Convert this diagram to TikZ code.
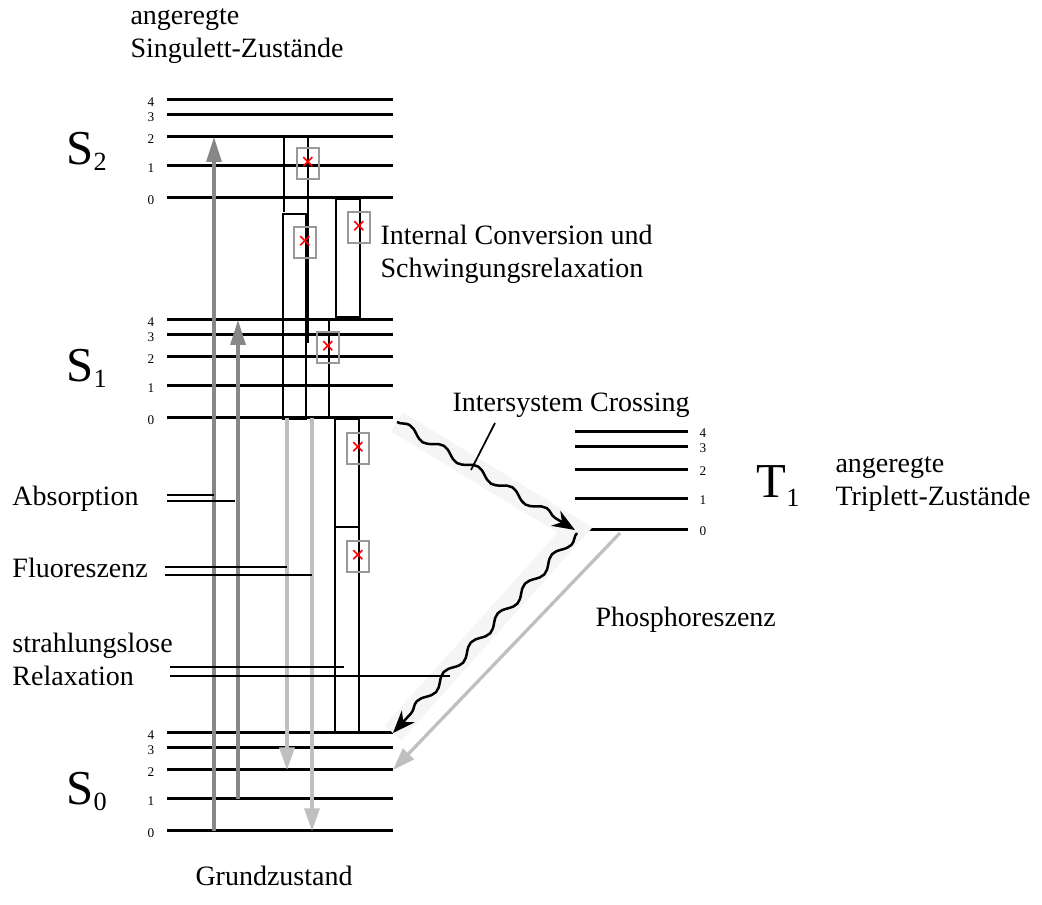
\documentclass[tikz,border=0pt]{standalone}
\usepackage{fontspec}
\setmainfont{Liberation Serif}
\usetikzlibrary{arrows.meta,calc,decorations.pathmorphing}

\begin{document}
\begin{tikzpicture}[
  x=0.4pt, y=-0.4pt,
  font=\fontsize{11.2}{13.2}\selectfont,
  level/.style={line width=1.2pt},
  num/.style={font=\fontsize{5.3}{6}\selectfont, inner sep=0pt},
  state/.style={font=\fontsize{19.5}{20}\selectfont, inner sep=0pt, anchor=base west},
  lbl/.style={anchor=base west, align=left, inner sep=0pt},
  frame/.style={line width=0.8pt},
  icon/.style={draw=black!40, line width=0.8pt, minimum width=8.8pt, minimum height=12.4pt,
    inner sep=0pt, text=red, font=\fontsize{10}{10}\selectfont\bfseries},
  pointer/.style={line width=0.7pt},
  absarr/.style={draw=black!47, line width=1.3pt, -{Triangle[length=10pt,width=6pt]}},
  fluarr/.style={draw=black!25, line width=1.3pt, -{Triangle[length=9pt,width=6pt]}},
  band/.style={draw=black!4, line width=9pt},
  wave/.style={line width=1pt, decorate,
    decoration={snake, amplitude=1.6pt, segment length=16pt, post length=9pt},
    -{Stealth[length=9pt,width=7pt]}}
]
\useasboundingbox (0,0) rectangle (1042,905);

% vibrational levels
\foreach \st/\y in {S2/100, S1/320, S0/733} {
  \foreach \v/\dy in {4/0, 3/15, 2/37, 1/66, 0/98} {
    \draw[level] (167,\y+\dy) coordinate (\st-\v) -- ++(226,0) coordinate (\st-\v e);
    \node[num] (n\st-\v) at (151,\y+\dy+2) {\v};
  }
}
\foreach \v/\dy in {4/0, 3/15, 2/38, 1/67, 0/98} {
  \draw[level] (575,432+\dy) coordinate (T1-\v) -- ++(113,0) coordinate (T1-\v e);
  \node[num] (nT1-\v) at (703,432+\dy+1) {\v};
}

% states
\node[state] (S2) at (66,165) {S\raisebox{-2.3pt}{\fontsize{10.5}{11}\selectfont 2}};
\node[state] (S1) at (66,382) {S\raisebox{-2.3pt}{\fontsize{10.5}{11}\selectfont 1}};
\node[state] (S0) at (66,805) {S\raisebox{-2.3pt}{\fontsize{10.5}{11}\selectfont 0}};
\node[state] (T1) at (756,498) {T\raisebox{-3.4pt}{\fontsize{10.5}{11}\selectfont 1}};

% texts
\node[lbl] (singulett) at (130,58) {angeregte\\Singulett-Zustände};
\node[lbl] (ic) at (380,278) {Internal Conversion und\\Schwingungsrelaxation};
\node[lbl] (isctext) at (452,412) {Intersystem Crossing};
\node[lbl] (triplett) at (835,506) {angeregte\\Triplett-Zustände};
\node[lbl] (absorption) at (12,506) {Absorption};
\node[lbl] (fluoreszenz) at (12,578) {Fluoreszenz};
\node[lbl] (relax) at (12,686) {strahlungslose\\Relaxation};
\node[lbl] (phos) at (595,627) {Phosphoreszenz};
\node[lbl] (grund) at (195,886) {Grundzustand};

% frames of the missing pictures
\draw[frame] (284,212) -- (284,137) -- (307.5,137) -- (307.5,343);
\draw[frame] (283,214) rectangle (305.5,419);
\draw[frame] (336,199) rectangle (360,317);
\draw[frame] (329,321) -- (329,419);
\draw[frame] (335,419) rectangle (358.5,733);
\draw[frame] (335,527) -- (358.5,527);
\node[icon] (icA) at (308,163.5) {×};
\node[icon] (icB) at (305,242.5) {×};
\node[icon] (icC) at (359,228) {×};
\node[icon] (icD) at (328,347.5) {×};
\node[icon] (icE) at (358,448.5) {×};
\node[icon] (icF) at (358,556.5) {×};

% absorption and fluorescence
\coordinate (absA) at (214,0);
\coordinate (absB) at (238,0);
\coordinate (fluA) at (287,0);
\coordinate (fluB) at (312,0);
\draw[absarr] (absA |- S0-0) -- (absA |- S2-2);
\draw[absarr] (absB |- S0-1) -- (absB |- S1-4);
\draw[fluarr] (fluA |- S1-0) -- (fluA |- S0-2);
\draw[fluarr] (fluB |- S1-0) -- (fluB |- S0-0);

% intersystem crossing and phosphorescence
\draw[band] ($(S1-0e)+(4,4)$) -- (T1-0) -- (S0-4e);
\draw[wave] ($(S1-0e)+(4,4)$) -- (T1-0);
\draw[wave] ($(T1-0)+(2,3)$) -- (S0-4e);
\draw[fluarr] ($(T1-0)+(45,3)$) -- (S0-2e);

% pointer lines
\draw[pointer] (167,495) -- (absA |- 0,495);
\draw[pointer] (167,501) -- (235,501);
\draw[pointer] (165,567) -- (fluA |- 0,567);
\draw[pointer] (165,575) -- (fluB |- 0,575);
\draw[pointer] (170,667) -- (344,667);
\draw[pointer] (170,676) -- (450,676);
\draw[pointer] (495,423) -- (471,470);
\end{tikzpicture}
\end{document}
